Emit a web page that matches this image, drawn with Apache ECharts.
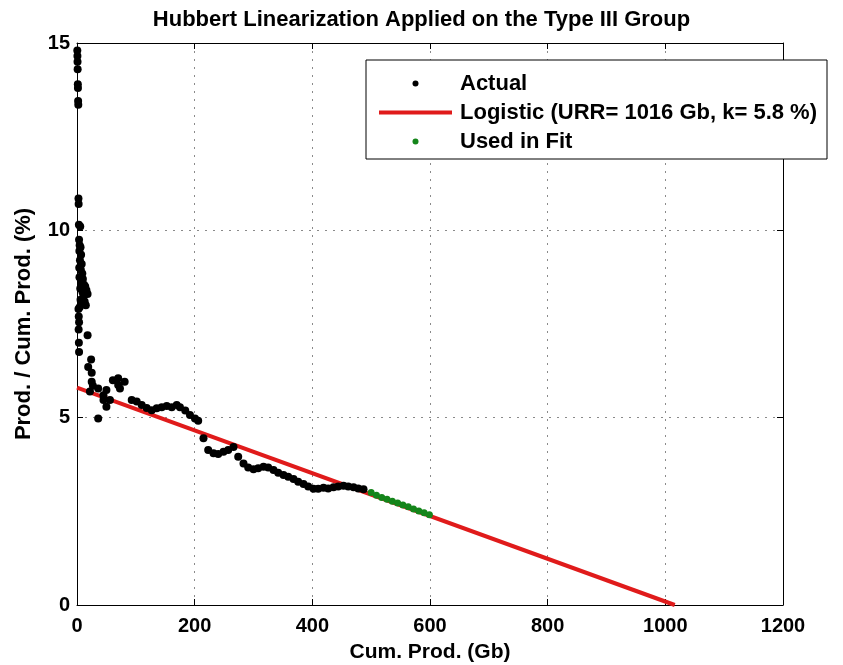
<!DOCTYPE html>
<html>
<head>
<meta charset="utf-8">
<title>Hubbert Linearization</title>
<script src="https://cdn.jsdelivr.net/npm/echarts@6/dist/echarts.min.js"></script>
<style>
  html, body { margin: 0; padding: 0; background: #fff; }
  #chart { width: 843px; height: 665px; }
</style>
</head>
<body>
<div id="chart"></div>
<script>
// 数据：累计产量 (Gb) 与 产量/累计产量 (%)
const actualPoints = [
  [0.5, 14.8], [0.7, 14.65], [0.9, 14.5], [1.1, 14.3], [1.4, 13.9], [1.6, 13.8], [1.9, 13.45], [2.2, 13.35],
  [2.5, 10.85], [2.8, 10.7], [3.2, 10.15], [5.5, 10.1],
  [3.5, 9.75], [4.5, 9.6], [6, 9.55], [4, 9.45], [7, 9.35], [5, 9.2], [8, 9.1], [3.8, 9.0], [6.5, 8.95],
  [9, 8.85], [4.2, 8.75], [10, 8.7], [7.5, 8.6], [12, 8.55], [5.5, 8.45], [14, 8.5], [9.5, 8.35], [16, 8.4],
  [11, 8.25], [18, 8.3], [6, 8.15], [13, 8.1], [15, 8.0], [4.5, 7.95], [8.5, 8.05],
  [2.5, 7.9], [3, 7.7], [3.5, 7.55], [2.8, 7.35], [18, 7.2], [3.2, 7.0], [3.5, 6.75], [24, 6.55], [19, 6.35],
  [25, 6.2], [25, 5.96], [27, 5.85], [22, 5.7], [36, 5.78], [45, 5.6], [50, 5.74], [56, 5.47], [45, 5.47],
  [50, 5.29], [36, 4.98],
  [61, 6.0], [70, 6.05], [81, 5.96], [73, 5.78], [70, 5.87],
  [93, 5.47], [101.5, 5.43], [110, 5.34], [118.5, 5.26], [127, 5.2], [135.5, 5.25], [144, 5.28], [152.5, 5.31],
  [161, 5.28], [169.5, 5.34], [175, 5.28], [184, 5.19], [192, 5.07], [200.5, 4.98], [206, 4.92], [215, 4.45],
  [223, 4.14], [232, 4.05], [240, 4.03], [249, 4.09], [257, 4.14], [266, 4.22], [274, 3.96], [283, 3.78],
  [291, 3.67], [300, 3.62], [308, 3.65], [317, 3.69], [325, 3.67], [334, 3.6], [342, 3.53], [351, 3.47],
  [359, 3.42], [368, 3.36], [376, 3.29], [385, 3.23], [393, 3.16], [402, 3.1], [410, 3.1], [419, 3.13],
  [427, 3.11], [436, 3.14], [444, 3.16], [453, 3.18], [461, 3.16], [470, 3.14], [478, 3.11], [487, 3.09]
]

const fitPoints = [
  [500, 3.0], [509, 2.93], [518, 2.87], [527, 2.82], [536, 2.77], [545, 2.72],
  [554, 2.67], [563, 2.62], [572, 2.56], [581, 2.51], [590, 2.46], [599, 2.41]
]

// Logistic 拟合直线：URR = 1016 Gb, k = 5.8 %
const logisticLine = [[0, 5.8], [1016, 0]]

const xTicks = [0, 200, 400, 600, 800, 1000, 1200]
const yTicks = [0, 5, 10, 15]

const seriesNames = ['Actual', 'Logistic (URR= 1016 Gb, k= 5.8 %)', 'Used in Fit']

class ChartHelper {
  #divId = ''
  #chart = null

  constructor (divId) {
    this.#divId = divId
  }

  mount () {
    this.#chart = echarts.init(document.getElementById(this.#divId), null, { renderer: 'canvas' })
    return this
  }

  setOptions (options) {
    this.#chart.setOption(options)
    return this
  }
}

const font = "'Liberation Sans', Arial, sans-serif"

const gridLine = { show: true, lineStyle: { color: '#8a8a8a', type: [2, 6], width: 1 } }
const tick = { show: true, inside: true, length: 6, lineStyle: { color: '#000' } }
const line = { show: true, onZero: false, lineStyle: { color: '#000', width: 1 } }
const plain = (v) => String(v)

const options = {
  backgroundColor: '#fff',
  animation: false,
  title: {
    text: 'Hubbert Linearization Applied on the Type III Group',
    left: 'center',
    top: 4,
    textStyle: { fontFamily: font, fontWeight: 'bold', fontSize: 22, color: '#000' }
  },
  grid: { left: 77, top: 43, width: 706, height: 562, containLabel: false, outerBoundsMode: 'none' },
  legend: {
    data: [
      { name: seriesNames[0], icon: 'circle' },
      { name: seriesNames[1], icon: 'path://M0,0 L73,0 L73,4 L0,4 Z' },
      { name: seriesNames[2], icon: 'circle' }
    ],
    orient: 'vertical',
    left: 366,
    top: 60,
    padding: [9, 10, 3, 13],
    itemGap: 0,
    itemWidth: 73,
    itemHeight: 6,
    backgroundColor: '#fff',
    borderColor: '#000',
    borderWidth: 1,
    borderRadius: 0,
    selectedMode: false,
    textStyle: { fontFamily: font, fontWeight: 'bold', fontSize: 22, color: '#000', lineHeight: 29, padding: [0, 0, 0, 3] }
  },
  xAxis: [
    {
      type: 'value', min: 0, max: 1200, interval: 200,
      name: 'Cum. Prod. (Gb)', nameLocation: 'middle', nameGap: 37,
      nameTextStyle: { fontFamily: font, fontWeight: 'bold', fontSize: 21, color: '#000' },
      axisLine: line, axisTick: tick, splitLine: gridLine,
      axisLabel: {
        margin: 11, color: '#000', fontFamily: font, fontWeight: 'bold', fontSize: 20,
        customValues: xTicks, formatter: plain
      }
    },
    {
      type: 'value', min: 0, max: 1200, interval: 200, position: 'top',
      axisLine: line, axisTick: tick, splitLine: { show: false }, axisLabel: { show: false }
    }
  ],
  yAxis: [
    {
      type: 'value', min: 0, max: 15, interval: 5,
      name: 'Prod. / Cum. Prod. (%)', nameLocation: 'middle', nameGap: 42,
      nameTextStyle: { fontFamily: font, fontWeight: 'bold', fontSize: 22, color: '#000' },
      axisLine: line, axisTick: tick, splitLine: gridLine,
      axisLabel: {
        margin: 7, color: '#000', fontFamily: font, fontWeight: 'bold', fontSize: 20,
        customValues: yTicks, formatter: plain
      }
    },
    {
      type: 'value', min: 0, max: 15, interval: 5, position: 'right',
      axisLine: line, axisTick: tick, splitLine: { show: false }, axisLabel: { show: false }
    }
  ],
  series: [
    {
      name: seriesNames[0], type: 'scatter', data: actualPoints,
      symbol: 'circle', symbolSize: 8, itemStyle: { color: '#000', opacity: 1 }, z: 3
    },
    {
      name: seriesNames[1], type: 'line', data: logisticLine,
      showSymbol: false, symbol: 'none', lineStyle: { color: '#e01b1b', width: 4 },
      itemStyle: { color: '#e01b1b' }, z: 2
    },
    {
      name: seriesNames[2], type: 'scatter', data: fitPoints,
      symbol: 'circle', symbolSize: 7, itemStyle: { color: '#14851a', opacity: 1 }, z: 4
    }
  ]
}

new ChartHelper('chart').mount().setOptions(options)
</script>
</body>
</html>
